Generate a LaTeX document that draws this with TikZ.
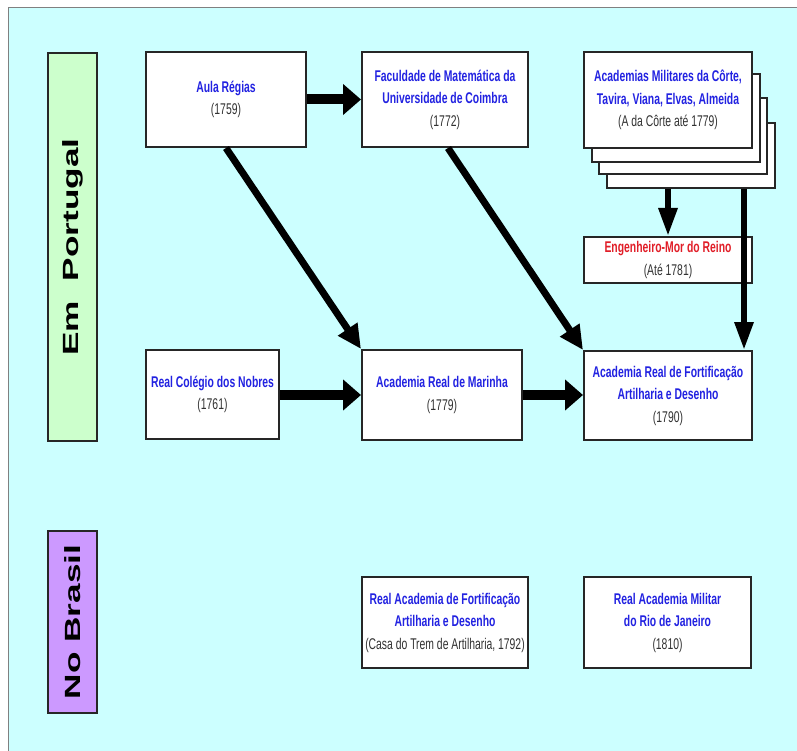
\documentclass[tikz,border=0pt]{standalone}
\usepackage{fontspec}
\setmainfont{Liberation Sans}
\newfontfamily\boxfont[FakeStretch=0.67]{Liberation Sans}
\newfontfamily\labelfont[FakeStretch=1.6]{Liberation Sans}
\usetikzlibrary{arrows.meta}
\definecolor{bgcyan}{RGB}{204,255,255}
\definecolor{lgreen}{RGB}{204,255,204}
\definecolor{lpurple}{RGB}{204,153,255}
\definecolor{tblue}{RGB}{34,34,225}
\definecolor{tred}{RGB}{225,30,40}
\definecolor{tgray}{RGB}{50,50,50}
\newcommand\bluet[1]{\textcolor{tblue}{\bfseries #1}}
\newcommand\redt[1]{\textcolor{tred}{\bfseries #1}}
\newcommand\grayt[1]{\textcolor{tgray}{#1}}
\tikzset{
  box/.style={draw=black!85, line width=2pt, fill=white, inner sep=0pt, align=center,
    font=\boxfont\fontsize{15.5}{22.5}\selectfont},
  sidelabel/.style={draw=black!85, line width=2pt, inner sep=0pt},
  sidetext/.style={rotate=90, font=\labelfont\bfseries\fontsize{22}{22}\selectfont},
  harrow/.style={line width=10pt, -{Triangle[length=18pt,width=30pt]}},
  varrow/.style={line width=6pt, -{Triangle[length=28pt,width=18pt]}},
  darrow/.style={line width=7pt, -{Triangle[length=24pt,width=22pt]}}
}
\begin{document}
\begin{tikzpicture}[x=1pt,y=-1pt]
\useasboundingbox (0,0) rectangle (797,751);
\fill[white] (0,0) rectangle (797,751);
\fill[bgcyan] (8,8) rectangle (797,751);
\draw[gray, line width=1pt] (8,751) -- (8,8) -- (797,8);

% side labels
\node[sidelabel, fill=lgreen, minimum width=49pt, minimum height=388pt] (pt) at (72.5,247) {};
\node[sidetext] (ptlab) at (pt.center) {Em~~Portugal};
\node[sidelabel, fill=lpurple, minimum width=49pt, minimum height=182pt] (br) at (72.5,622) {};
\node[sidetext] (brlab) at (br.center) {No Brasil};

% top row
\node[box, minimum width=160pt, minimum height=95pt] (aula) at (226,99.5)
  {\bluet{Aula Régias}\\\grayt{(1759)}};
\node[box, minimum width=166pt, minimum height=95pt] (fac) at (445,99.5)
  {\bluet{Faculdade de Matemática da}\\\bluet{Universidade de Coimbra}\\\grayt{(1772)}};

% stacked academias
\node[box, minimum width=168pt, minimum height=65pt] (acad4) at (691,155.5) {};
\node[box, minimum width=168pt, minimum height=76pt] (acad3) at (683,136) {};
\node[box, minimum width=168pt, minimum height=88pt] (acad2) at (676,118) {};
\node[box, minimum width=168pt, minimum height=96pt] (acad) at (668,100)
  {\bluet{Academias Militares da Côrte,}\\\bluet{Tavira, Viana, Elvas, Almeida}\\\grayt{(A da Côrte até 1779)}};

\node[box, minimum width=168pt, minimum height=46pt] (eng) at (668,260)
  {\redt{Engenheiro-Mor do Reino}\\\grayt{(Até 1781)}};

% middle row
\node[box, minimum width=133pt, minimum height=89pt] (colegio) at (212.5,394.5)
  {\bluet{Real Colégio dos Nobres}\\\grayt{(1761)}};
\node[box, minimum width=160pt, minimum height=90pt] (marinha) at (442,395)
  {\bluet{Academia Real de Marinha}\\\grayt{(1779)}};
\node[box, minimum width=168pt, minimum height=89pt] (fort) at (668,395.5)
  {\bluet{Academia Real de Fortificação}\\\bluet{Artilharia e Desenho}\\\grayt{(1790)}};

% Brasil row
\node[box, minimum width=166pt, minimum height=91pt] (rafd) at (445,622.5)
  {\bluet{Real Academia de Fortificação}\\\bluet{Artilharia e Desenho}\\\grayt{(Casa do Trem de Artilharia, 1792)}};
\node[box, minimum width=167pt, minimum height=91pt] (ram) at (667.5,622.5)
  {\bluet{Real Academia Militar}\\\bluet{do Rio de Janeiro}\\\grayt{(1810)}};

% arrows
\draw[harrow] (aula.east) -- (fac.west);
\draw[harrow] (colegio.east |- marinha.west) -- (marinha.west);
\draw[harrow] (marinha.east) -- (fort.west |- marinha.east);
\draw[darrow] (aula.south) -- (marinha.north west);
\draw[darrow] ([xshift=3pt]fac.south) -- (fort.north west);
\draw[varrow] (eng.north |- acad4.south) -- (eng.north);
\coordinate (fortin) at ([xshift=-9pt]fort.north east);
\draw[varrow] (fortin |- acad4.south) -- (fortin);
\end{tikzpicture}
\end{document}
